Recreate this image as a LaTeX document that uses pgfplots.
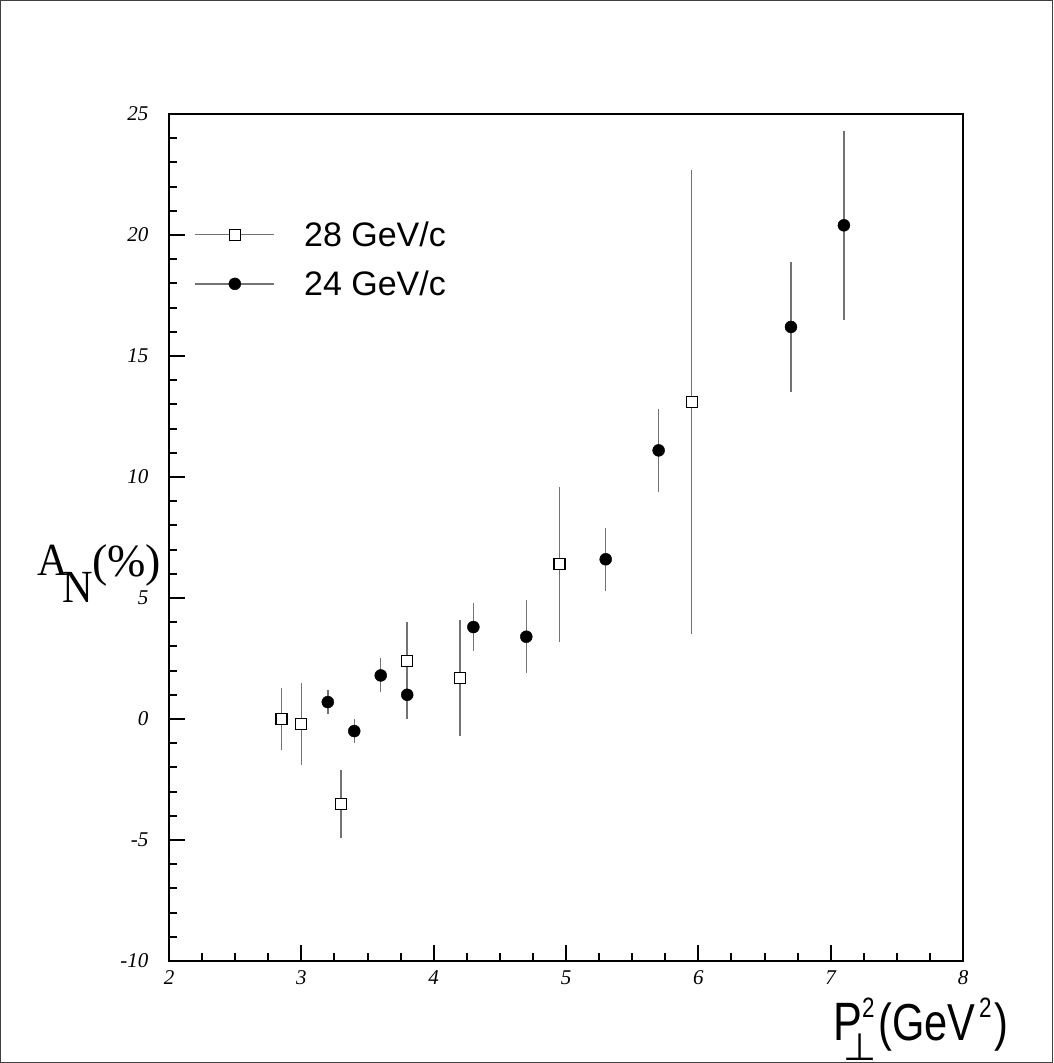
\documentclass[border=0pt]{standalone}
\usepackage{pgfplots}
\pgfplotsset{compat=1.18}
\usepackage{fontspec}
\setmainfont{Liberation Serif}
\newfontfamily\arial{Liberation Sans}
\newfontfamily\dejavu{DejaVu Sans}
\pgfplotsset{
  mylegend/.style={legend image code/.code={
    \draw[black!55,line width=1.5pt] (0pt,0pt) -- (79pt,0pt);
    \draw[mark repeat=2,mark phase=2,##1] plot coordinates {(0pt,0pt) (39.5pt,0pt) (79pt,0pt)};}},
}
\pgfplotstableread{
x y e
2.85 0.0 1.3
3.0 -0.2 1.7
3.3 -3.5 1.4
3.8 2.4 1.6
4.2 1.7 2.4
4.95 6.4 3.2
5.95 13.1 9.6
}\datatwentyeight
\pgfplotstableread{
x y e
3.2 0.7 0.5
3.4 -0.5 0.5
3.6 1.8 0.7
3.8 1.0 1.0
4.3 3.8 1.0
4.7 3.4 1.5
5.3 6.6 1.3
5.7 11.1 1.7
6.7 16.2 2.7
7.1 20.4 3.9
}\datatwentyfour
\begin{document}
\begin{tikzpicture}
\useasboundingbox (0pt,0pt) rectangle (1053pt,1063pt);
\draw[line width=1pt, black!75] (0.5pt,0.5pt) rectangle (1052.5pt,1062.5pt);
\begin{axis}[
  name=ax,
  at={(169pt,102pt)}, anchor=south west, scale only axis,
  width=794pt, height=847pt,
  xmin=2, xmax=8, ymin=-10, ymax=25,
  xtick={2,3,...,8}, ytick={-10,-5,...,25},
  minor x tick num=3, minor y tick num=4,
  tick align=inside, xtick pos=bottom, ytick pos=left,
  major tick length=16pt, minor tick length=8pt,
  separate axis lines,
  axis line style={line width=2.5pt, line cap=rect},
  tick style={line width=2pt, black},
  /pgf/number format/assume math mode=true,
  ticklabel style={font=\fontsize{21}{21}\selectfont\itshape},
  yticklabel style={xshift=-17pt},
  xticklabel style={yshift=-6pt},
  legend style={draw=none, fill=none, at={(0.032,0.8755)}, anchor=north west,
    font=\arial\fontsize{34}{40}\selectfont, inner sep=0pt,
    row sep=19pt, /tikz/every odd column/.append style={column sep=27pt}},
  legend cell align=left,
  clip=false,
]
\addplot[only marks, mark=square*, mark size=5.5pt,
  mark options={fill=white, draw=black, line width=1.3pt},
  mylegend,
  error bars/.cd, y dir=both, y explicit, error mark=none,
  error bar style={black!55, line width=1.5pt}]
  table[x=x, y=y, y error=e] {\datatwentyeight};
\addlegendentry{28 GeV/c}
\addplot[only marks, mark=*, mark size=6pt,
  mark options={fill=black, draw=black},
  mylegend,
  error bars/.cd, y dir=both, y explicit, error mark=none,
  error bar style={black!55, line width=1.5pt}]
  table[x=x, y=y, y error=e] {\datatwentyfour};
\addlegendentry{24 GeV/c}
\end{axis}
\draw[line width=2.5pt] (ax.south west) rectangle (ax.north east);
% y axis label
\node[anchor=base west, inner sep=0pt] at (37pt,487pt) {\scalebox{0.92}[1]{\fontsize{46}{46}\selectfont A}};
\node[anchor=base west, inner sep=0pt] at (62pt,460pt) {\scalebox{0.92}[1]{\fontsize{46}{46}\selectfont N}};
\node[anchor=base west, inner sep=0pt] at (92pt,486pt) {\fontsize{46}{46}\selectfont (\%)};
% x axis label
\node[anchor=base west, inner sep=0pt] at (833pt,23pt) {\scalebox{0.8}[1]{\arial\fontsize{54}{54}\selectfont P}};
\node[anchor=base west, inner sep=0pt] at (862pt,45pt) {\scalebox{0.8}[1]{\arial\fontsize{28}{28}\selectfont 2}};
\node[anchor=base west, inner sep=0pt] at (878pt,23pt) {\scalebox{0.8}[1]{\arial\fontsize{52}{52}\selectfont (GeV}};
\node[anchor=base west, inner sep=0pt] at (979pt,45pt) {\scalebox{0.8}[1]{\arial\fontsize{28}{28}\selectfont 2}};
\node[anchor=base west, inner sep=0pt] at (994pt,23pt) {\scalebox{0.8}[1]{\arial\fontsize{52}{52}\selectfont )}};
\node[anchor=base, inner sep=0pt] at (860pt,2pt) {\dejavu\fontsize{38}{38}\selectfont ⊥};
\end{tikzpicture}
\end{document}
